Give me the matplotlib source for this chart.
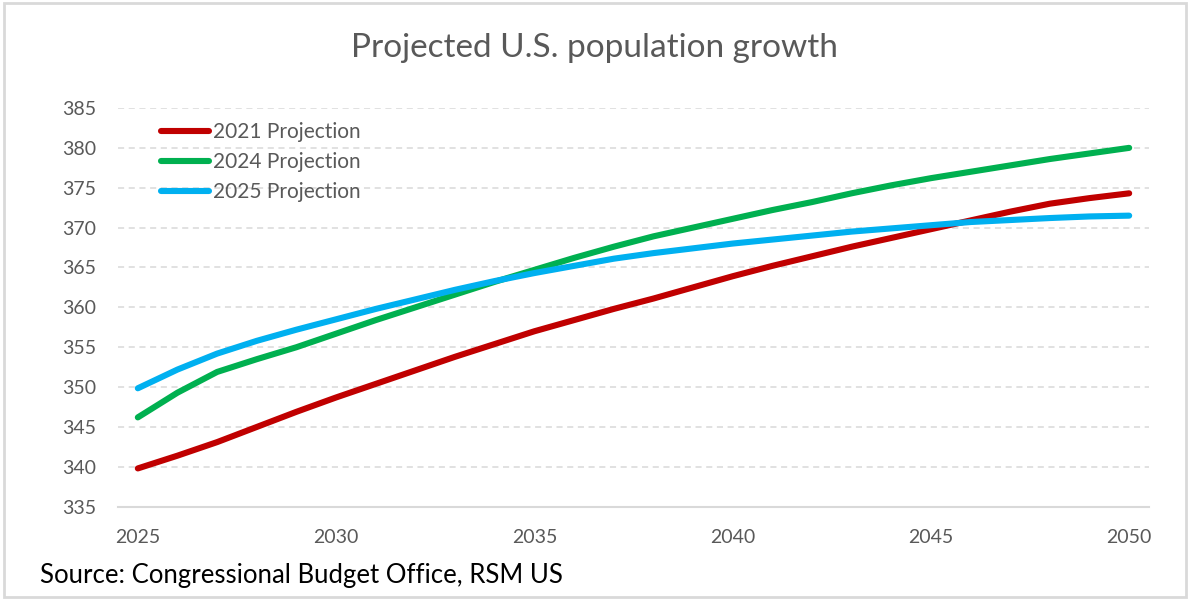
import numpy as np
import matplotlib
matplotlib.use("Agg")
import matplotlib.pyplot as plt
from matplotlib.patches import Rectangle

years = np.arange(2025, 2051)

proj_2021 = [339.8, 341.4, 343.1, 345.0, 346.9, 348.7, 350.4, 352.1, 353.8, 355.4,
             357.0, 358.4, 359.8, 361.1, 362.5, 363.9, 365.2, 366.4, 367.6, 368.7,
             369.8, 370.9, 372.0, 373.0, 373.7, 374.3]
proj_2024 = [346.2, 349.3, 351.9, 353.5, 355.0, 356.7, 358.4, 360.0, 361.6, 363.2,
             364.7, 366.2, 367.6, 368.9, 370.0, 371.1, 372.2, 373.2, 374.3, 375.3,
             376.2, 377.0, 377.8, 378.6, 379.3, 380.0]
proj_2025 = [349.85, 352.2, 354.2, 355.8, 357.2, 358.5, 359.8, 361.0, 362.2, 363.3,
             364.3, 365.2, 366.1, 366.8, 367.4, 368.0, 368.5, 369.0, 369.5, 369.9,
             370.3, 370.7, 370.95, 371.2, 371.4, 371.5]

series = [
    ("2021 Projection", proj_2021, "#C00000"),
    ("2024 Projection", proj_2024, "#00B050"),
    ("2025 Projection", proj_2025, "#00B0F0"),
]

x_ticks = [2025, 2030, 2035, 2040, 2045, 2050]
y_ticks = np.arange(335, 386, 5)

plt.rcParams["font.family"] = ["Lato", "DejaVu Sans"]
text_color = "#595959"
grid_color = "#d9d9d9"

fig = plt.figure(figsize=(11.97, 6.10), dpi=100)
ax = fig.add_axes([118 / 1197, 1 - 506.7 / 610, (1149 - 118) / 1197, (506.7 - 108) / 610])

for label, vals, color in series:
    ax.plot(years, vals, color=color, lw=4.4, solid_capstyle="round", label=label)

ax.set_xlim(2024.5, 2050.5)
ax.set_ylim(335, 385)
ax.set_xticks(x_ticks)
ax.set_yticks(y_ticks)
ax.tick_params(axis="both", length=0, labelsize=14, colors=text_color)
ax.tick_params(axis="y", pad=16)
ax.tick_params(axis="x", pad=16)

for y in y_ticks[1:]:
    ax.axhline(y, color=grid_color, lw=1.1, ls=(0, (4, 3)), zorder=0)

for side in ["top", "right", "left"]:
    ax.spines[side].set_visible(False)
ax.spines["bottom"].set_color(grid_color)
ax.spines["bottom"].set_linewidth(1.5)

fig.text(0.497, 1 - 48 / 610, "Projected U.S. population growth",
         fontsize=24, color=text_color, ha="center", va="center")

leg = ax.legend(loc="upper left", bbox_to_anchor=(0.034, 0.985), frameon=False,
                fontsize=15, handlelength=2.3, handletextpad=0.2, labelspacing=0.48,
                borderaxespad=0)
for t in leg.get_texts():
    t.set_color(text_color)

fig.text(40 / 1197, 1 - 575 / 610, "Source: Congressional Budget Office, RSM US",
         fontsize=18.5, color="black", va="center", ha="left")

fig.patches.append(Rectangle((4 / 1197, 1 - 597 / 610), 1182 / 1197, 594 / 610,
                             transform=fig.transFigure, fill=False,
                             edgecolor=grid_color, lw=2))

fig.savefig("out.png", dpi=100)
